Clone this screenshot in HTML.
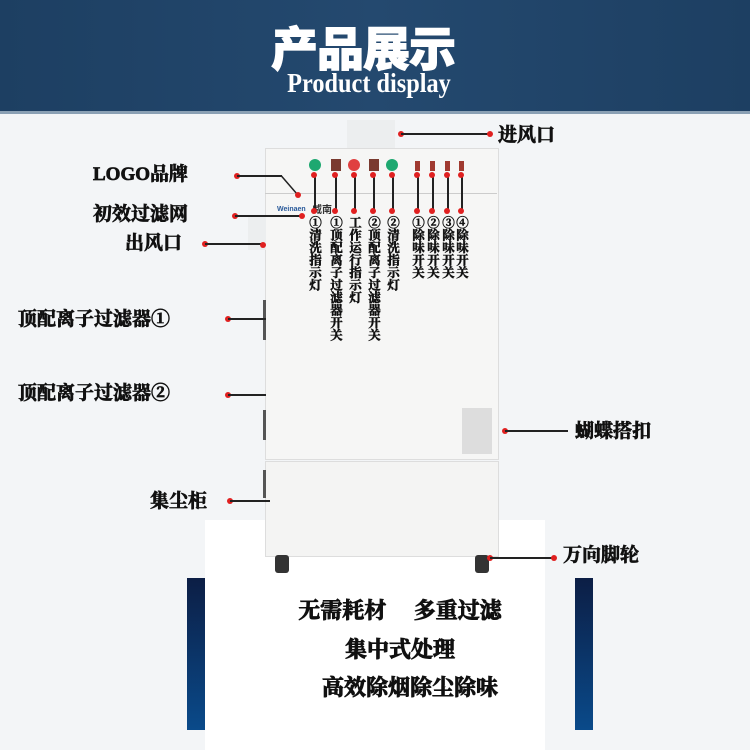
<!DOCTYPE html>
<html><head><meta charset="utf-8"><style>
body{margin:0}
#c{position:relative;width:750px;height:750px;background:#f3f5f7;overflow:hidden;font-family:"Liberation Serif","Noto Serif CJK SC",serif;}
.a{position:absolute}
.lb{position:absolute;font-weight:bold;font-size:19px;color:#111;white-space:nowrap;line-height:1;-webkit-text-stroke:0.7px #111}
.ln{position:absolute;height:1.5px;background:#222}
.d{position:absolute;width:6px;height:6px;border-radius:50%;background:#e02020}
.v{position:absolute;writing-mode:vertical-rl;text-orientation:upright;font-weight:bold;font-size:12.5px;line-height:1;color:#111;-webkit-text-stroke:0.5px #111}
.vl{position:absolute;width:1.5px;background:#222}
</style></head><body><div id="c">
<div class="a" style="left:0;top:0;width:750px;height:112px;background:linear-gradient(90deg,#1d3f62,#24496f 50%,#1d3f62)"></div>
<div class="a" style="left:0;top:111px;width:750px;height:3px;background:#8aa0b4"></div>
<div class="a" style="left:258px;top:22px;width:210px;text-align:center;color:#fff;font:900 47px 'Noto Sans CJK SC',sans-serif;line-height:1;letter-spacing:-1px;-webkit-text-stroke:1px #fff">产品展示</div>
<div class="a" style="left:262px;top:70px;width:214px;text-align:center;color:#fff;font-size:27px;line-height:1;font-weight:bold;transform:scaleX(0.9)">Product display</div>
<div class="a" style="left:205px;top:520px;width:340px;height:230px;background:#fff"></div>
<!-- machine -->
<div class="a" style="left:347px;top:120px;width:48px;height:30px;background:#eceeef"></div>
<div class="a" style="left:265px;top:148px;width:232px;height:310px;background:#f6f6f5;border:1px solid #ddd"></div>
<div class="a" style="left:265px;top:193px;width:232px;height:1px;background:#ccc"></div>
<div class="a" style="left:265px;top:461px;width:232px;height:94px;background:#f4f4f3;border:1px solid #ddd"></div>
<div class="a" style="left:248px;top:215px;width:18px;height:35px;background:#eceeef"></div>
<div class="a" style="left:263px;top:300px;width:3px;height:40px;background:#555"></div>
<div class="a" style="left:263px;top:410px;width:3px;height:30px;background:#555"></div>
<div class="a" style="left:263px;top:470px;width:3px;height:28px;background:#555"></div>
<div class="a" style="left:462px;top:408px;width:30px;height:46px;background:#ddd"></div>
<div class="a" style="left:275px;top:555px;width:14px;height:18px;background:#333;border-radius:3px"></div>
<div class="a" style="left:475px;top:555px;width:14px;height:18px;background:#333;border-radius:3px"></div>
<div class="a" style="left:277px;top:206px;font:bold 7px 'Liberation Sans',sans-serif;color:#2a5a9a">Weinaen</div>
<div class="a" style="left:312px;top:201px;font:bold 10px 'Noto Sans CJK SC';color:#333">威南</div>
<!-- indicators -->
<div class="a" style="left:309px;top:159px;width:12px;height:12px;border-radius:50%;background:#1ea870"></div>
<div class="a" style="left:331px;top:159px;width:10px;height:12px;background:#7a3a30"></div>
<div class="a" style="left:348px;top:159px;width:12px;height:12px;border-radius:50%;background:#e04040"></div>
<div class="a" style="left:369px;top:159px;width:10px;height:12px;background:#7a3a30"></div>
<div class="a" style="left:386px;top:159px;width:12px;height:12px;border-radius:50%;background:#1ea870"></div>
<div class="a" style="left:415px;top:161px;width:5px;height:10px;background:#a03a30"></div>
<div class="a" style="left:430px;top:161px;width:5px;height:10px;background:#a03a30"></div>
<div class="a" style="left:445px;top:161px;width:5px;height:10px;background:#a03a30"></div>
<div class="a" style="left:459px;top:161px;width:5px;height:10px;background:#a03a30"></div>
<!-- vertical labels -->
<div class="vl" style="left:314px;top:175px;height:36px"></div><div class="d" style="left:311px;top:172px"></div><div class="d" style="left:311px;top:208px"></div>
<div class="v" style="left:308px;top:216px">①清洗指示灯</div>
<div class="vl" style="left:335px;top:175px;height:36px"></div><div class="d" style="left:332px;top:172px"></div><div class="d" style="left:332px;top:208px"></div>
<div class="v" style="left:329px;top:216px">①顶配离子过滤器开关</div>
<div class="vl" style="left:354px;top:175px;height:36px"></div><div class="d" style="left:351px;top:172px"></div><div class="d" style="left:351px;top:208px"></div>
<div class="v" style="left:348px;top:216px">工作运行指示灯</div>
<div class="vl" style="left:373px;top:175px;height:36px"></div><div class="d" style="left:370px;top:172px"></div><div class="d" style="left:370px;top:208px"></div>
<div class="v" style="left:367px;top:216px">②顶配离子过滤器开关</div>
<div class="vl" style="left:392px;top:175px;height:36px"></div><div class="d" style="left:389px;top:172px"></div><div class="d" style="left:389px;top:208px"></div>
<div class="v" style="left:386px;top:216px">②清洗指示灯</div>
<div class="vl" style="left:417px;top:175px;height:36px"></div><div class="d" style="left:414px;top:172px"></div><div class="d" style="left:414px;top:208px"></div>
<div class="v" style="left:411px;top:216px">①除味开关</div>
<div class="vl" style="left:432px;top:175px;height:36px"></div><div class="d" style="left:429px;top:172px"></div><div class="d" style="left:429px;top:208px"></div>
<div class="v" style="left:426px;top:216px">②除味开关</div>
<div class="vl" style="left:447px;top:175px;height:36px"></div><div class="d" style="left:444px;top:172px"></div><div class="d" style="left:444px;top:208px"></div>
<div class="v" style="left:441px;top:216px">③除味开关</div>
<div class="vl" style="left:461px;top:175px;height:36px"></div><div class="d" style="left:458px;top:172px"></div><div class="d" style="left:458px;top:208px"></div>
<div class="v" style="left:455px;top:216px">④除味开关</div>
<!-- left labels -->
<div class="lb" style="left:93px;top:165px">LOGO品牌</div>
<div class="d" style="left:234px;top:173px"></div><div class="ln" style="left:237px;top:175px;width:45px"></div>
<svg class="a" style="left:280px;top:174px" width="25" height="25"><line x1="1" y1="1.5" x2="17" y2="20" stroke="#222" stroke-width="1.5"/><circle cx="18" cy="21" r="3" fill="#e02020"/></svg>
<div class="lb" style="left:93px;top:205px">初效过滤网</div>
<div class="d" style="left:232px;top:213px"></div><div class="ln" style="left:235px;top:215px;width:66px"></div><div class="d" style="left:299px;top:213px"></div>
<div class="lb" style="left:125px;top:234px">出风口</div>
<div class="d" style="left:202px;top:241px"></div><div class="ln" style="left:205px;top:243px;width:58px"></div><div class="d" style="left:260px;top:242px"></div>
<div class="lb" style="left:18px;top:310px">顶配离子过滤器①</div>
<div class="d" style="left:225px;top:316px"></div><div class="ln" style="left:228px;top:318px;width:38px"></div>
<div class="lb" style="left:18px;top:384px">顶配离子过滤器②</div>
<div class="d" style="left:225px;top:392px"></div><div class="ln" style="left:228px;top:394px;width:38px"></div>
<div class="lb" style="left:150px;top:492px">集尘柜</div>
<div class="d" style="left:227px;top:498px"></div><div class="ln" style="left:230px;top:500px;width:40px"></div>
<!-- right labels -->
<div class="lb" style="left:498px;top:126px">进风口</div>
<div class="d" style="left:398px;top:131px"></div><div class="ln" style="left:401px;top:133px;width:88px"></div><div class="d" style="left:487px;top:131px"></div>
<div class="lb" style="left:575px;top:422px">蝴蝶搭扣</div>
<div class="d" style="left:502px;top:428px"></div><div class="ln" style="left:505px;top:430px;width:63px"></div>
<div class="lb" style="left:563px;top:546px">万向脚轮</div>
<div class="d" style="left:487px;top:555px"></div><div class="ln" style="left:490px;top:557px;width:63px"></div><div class="d" style="left:551px;top:555px"></div>
<!-- bottom -->
<div class="a" style="left:187px;top:578px;width:18px;height:152px;background:linear-gradient(#0c1e45,#0a4a8a)"></div>
<div class="a" style="left:575px;top:578px;width:18px;height:152px;background:linear-gradient(#0c1e45,#0a4a8a)"></div>
<div class="lb" style="left:200px;top:600px;width:400px;text-align:center;font-size:22px;-webkit-text-stroke:0.9px #111">无需耗材　 多重过滤</div>
<div class="lb" style="left:200px;top:639px;width:400px;text-align:center;font-size:22px;-webkit-text-stroke:0.9px #111">集中式处理</div>
<div class="lb" style="left:210px;top:677px;width:400px;text-align:center;font-size:22px;-webkit-text-stroke:0.9px #111">高效除烟除尘除味</div>
</div></body></html>
